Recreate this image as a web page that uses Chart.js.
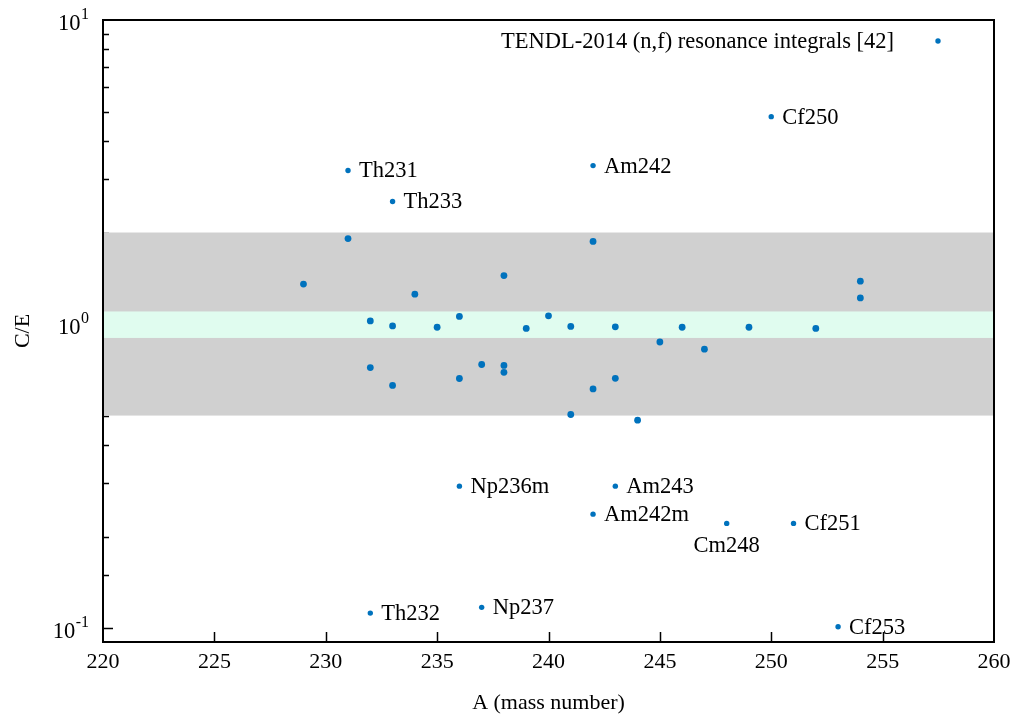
<!DOCTYPE html>
<html>
<head>
<meta charset="utf-8">
<title>C/E of resonance integrals</title>
<script src="https://cdn.jsdelivr.net/npm/chart.js@4.4.1/dist/chart.umd.min.js"></script>
<style>
  html, body { margin: 0; padding: 0; background: #fff; }
  #wrap { width: 1018px; height: 716px; }
</style>
</head>
<body>
<div id="wrap"><canvas id="ceChart"></canvas></div>
<script>
// C/E ratios per nuclide, sorted by mass number
const massNumbers = [229, 231, 232, 232, 233, 233, 234, 235, 236, 236, 237, 238, 238, 238, 239,
                     240, 241, 241, 242, 242, 243, 243, 244, 245, 246, 247, 249, 252, 254, 254];
const ceValues = [1.353, 1.91, 1.024, 0.719, 0.986, 0.628, 1.254, 0.976, 1.059, 0.662, 0.736, 1.444, 0.731, 0.694, 0.967,
                  1.064, 0.982, 0.504, 1.869, 0.612, 0.979, 0.663, 0.483, 0.873, 0.976, 0.827, 0.976, 0.967, 1.384, 1.219];

// outliers, named on the plot
const outlierNames = ['Th231', 'Th233', 'Am242', 'Cf250', 'Np236m', 'Am243', 'Am242m', 'Cm248', 'Cf251', 'Th232', 'Np237', 'Cf253'];
const outlierMass = [231, 233, 242, 250, 236, 243, 242, 248, 251, 232, 237, 253];
const outlierCE = [3.20, 2.53, 3.32, 4.81, 0.293, 0.293, 0.237, 0.221, 0.221, 0.112, 0.117, 0.101];

const xTickValues = [220, 225, 230, 235, 240, 245, 250, 255, 260];
const yDecades = [-1, 0, 1];
const outerBand = [0.5, 2];
const innerBand = [0.9, 1.1];
const keyText = 'TENDL-2014 (n,f) resonance integrals [42]';

const SERIF = "'Liberation Serif', 'Times New Roman', serif";
const BLUE = '#0072bd';

function toPoints(xs, ys) {
    return xs.map((x, i) => ({ x: x, y: ys[i] }));
}

// gnuplot-like frame: inward ticks, bands, superscript labels, key
const gnuFrame = {
    id: 'gnuFrame',
    beforeDatasetsDraw(chart) {
        const { ctx, chartArea: a, scales: { x, y } } = chart;
        ctx.save();
        ctx.strokeStyle = '#000';
        ctx.lineWidth = 1.5;
        ctx.beginPath();
        y.ticks.forEach(t => {
            const v = t.value;
            if (v <= y.min || v >= y.max) return;
            const py = Math.round(y.getPixelForValue(v)) + 0.5;
            const major = Math.abs(Math.log10(v) - Math.round(Math.log10(v))) < 1e-6;
            ctx.moveTo(a.left, py);
            ctx.lineTo(a.left + (major ? 10 : 6), py);
        });
        xTickValues.forEach(v => {
            if (v <= x.min || v >= x.max) return;
            const px = Math.round(x.getPixelForValue(v)) + 0.5;
            ctx.moveTo(px, a.bottom);
            ctx.lineTo(px, a.bottom - 10);
        });
        ctx.stroke();

        // tolerance bands
        const band = (lim, color) => {
            const y0 = y.getPixelForValue(lim[1]);
            const y1 = y.getPixelForValue(lim[0]);
            ctx.fillStyle = color;
            ctx.fillRect(a.left, y0, a.right - a.left, y1 - y0);
        };
        band(outerBand, '#d0d0d0');
        band(innerBand, '#e0fcef');
        ctx.restore();
    },
    afterDatasetsDraw(chart) {
        const { ctx, chartArea: a, scales: { y } } = chart;
        ctx.save();
        ctx.strokeStyle = '#000';
        ctx.lineWidth = 2;
        ctx.strokeRect(a.left, a.top, a.right - a.left, a.bottom - a.top);

        // y tick labels as 10^n
        ctx.fillStyle = '#000';
        yDecades.forEach(e => {
            const py = y.getPixelForValue(Math.pow(10, e));
            const xr = a.left - 14;
            ctx.font = '16px ' + SERIF;
            const sup = String(e);
            const sw = ctx.measureText(sup).width;
            ctx.textAlign = 'left';
            ctx.textBaseline = 'alphabetic';
            ctx.fillText(sup, xr - sw, py - 1);
            ctx.font = '22.5px ' + SERIF;
            ctx.textAlign = 'right';
            ctx.fillText('10', xr - sw - 0.5, py + 10);
        });

        // outlier names
        const meta = chart.getDatasetMeta(1);
        ctx.font = '22.5px ' + SERIF;
        ctx.textBaseline = 'middle';
        meta.data.forEach((pt, i) => {
            const name = outlierNames[i];
            if (name === 'Cm248') {
                ctx.textAlign = 'center';
                ctx.fillText(name, pt.x, pt.y + 23);
            } else {
                ctx.textAlign = 'left';
                ctx.fillText(name, pt.x + 11, pt.y + 1);
            }
        });

        // key
        const ky = a.top + 21;
        ctx.textAlign = 'right';
        ctx.fillText(keyText, a.right - 100, ky + 1);
        ctx.fillStyle = BLUE;
        ctx.beginPath();
        ctx.arc(a.right - 56, ky, 2.7, 0, Math.PI * 2);
        ctx.fill();
        ctx.restore();
    }
};

const chart = new Chart(document.getElementById('ceChart'), {
    type: 'scatter',
    data: {
        datasets: [{
            label: 'C/E',
            data: toPoints(massNumbers, ceValues),
            backgroundColor: BLUE,
            borderWidth: 0,
            pointRadius: 3.4
        }, {
            label: 'outliers',
            data: toPoints(outlierMass, outlierCE),
            backgroundColor: BLUE,
            borderWidth: 0,
            pointRadius: 2.7
        }]
    },
    options: {
        responsive: true,
        maintainAspectRatio: false,
        animation: false,
        layout: { padding: { top: 20, right: 24, left: 0, bottom: 0 } },
        plugins: {
            legend: { display: false },
            tooltip: { enabled: false }
        },
        scales: {
            x: {
                type: 'linear',
                min: 220,
                max: 260,
                afterBuildTicks(scale) {
                    scale.ticks = xTickValues.map(v => ({ value: v }));
                },
                afterFit(scale) { scale.height = 74; },
                grid: { display: false, drawTicks: false },
                border: { display: false },
                ticks: {
                    padding: 7,
                    color: '#000',
                    font: { family: SERIF, size: 22 },
                    maxRotation: 0
                },
                title: {
                    display: true,
                    text: 'A (mass number)',
                    color: '#000',
                    font: { family: SERIF, size: 22 },
                    padding: { top: 12, bottom: 0 }
                }
            },
            y: {
                type: 'logarithmic',
                min: 0.09,
                max: 10,
                afterFit(scale) { scale.width = 103; },
                grid: { display: false, drawTicks: false },
                border: { display: false },
                ticks: { display: false },
                title: {
                    display: true,
                    text: 'C/E',
                    color: '#000',
                    font: { family: SERIF, size: 22 },
                    padding: { top: 10, bottom: 0 }
                }
            }
        }
    },
    plugins: [gnuFrame]
});
</script>
</body>
</html>
